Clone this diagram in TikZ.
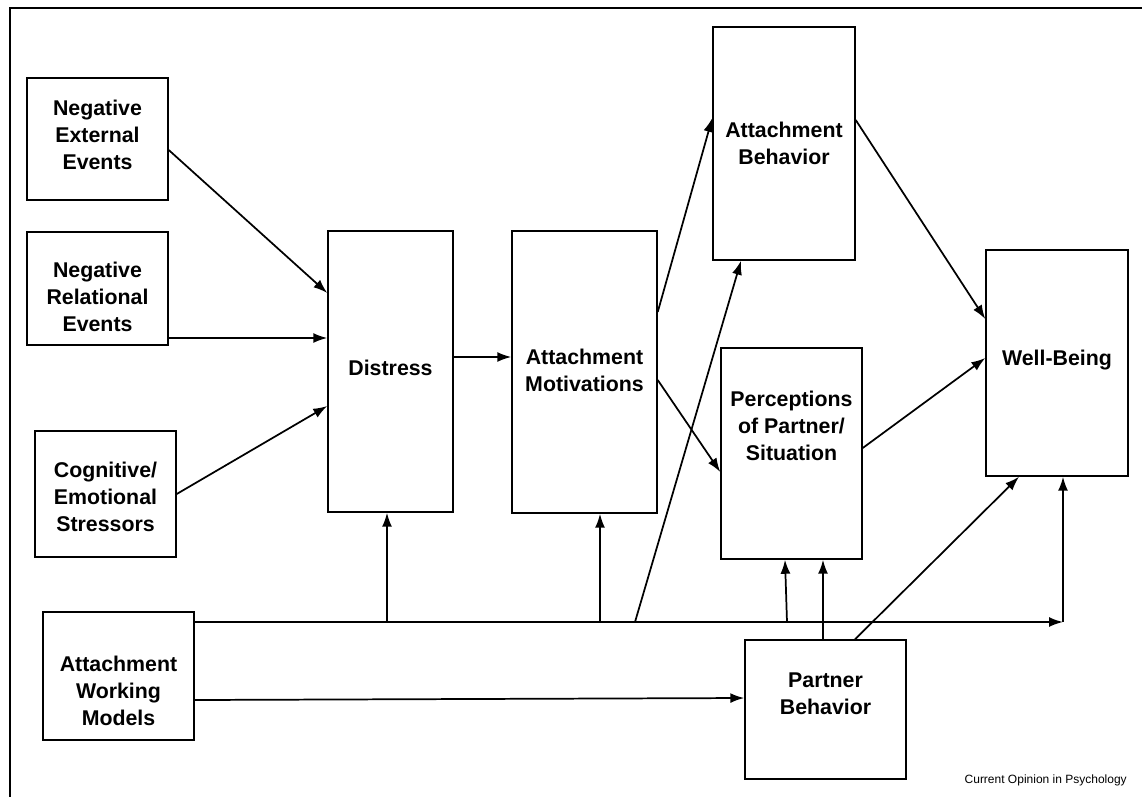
\documentclass[tikz,border=0pt]{standalone}
\usepackage{fontspec}
\setmainfont{Liberation Sans}
\usetikzlibrary{arrows.meta}
\begin{document}
\begin{tikzpicture}[x=0.75pt,y=-0.75pt,
  box/.style={draw=black,line width=1.1pt,inner sep=0pt,minimum width=#1*0.75pt},
  lbl/.style={font=\fontsize{16}{20.25}\selectfont\bfseries,align=center,inner sep=0pt},
  conn/.style={line width=1.3pt,-{Latex[length=10.5pt,width=7.5pt]}},
  bus/.style={line width=1.3pt}]
\useasboundingbox (0,0) rectangle (1142,797);
\draw[line width=1.1pt] (1142,8) -- (10,8) -- (10,797);
% boxes
\node[box=141,minimum height=122*0.75pt] (nee) at (97.5,139) {};
\node[box=141,minimum height=113*0.75pt] (nre) at (97.5,288.5) {};
\node[box=141,minimum height=126*0.75pt] (ces) at (105.5,494) {};
\node[box=125,minimum height=281*0.75pt] (dis) at (390.5,371.5) {};
\node[box=145,minimum height=282*0.75pt] (mot) at (584.5,372) {};
\node[box=142,minimum height=233*0.75pt] (beh) at (784,143.5) {};
\node[box=141,minimum height=211*0.75pt] (per) at (791.5,453.5) {};
\node[box=142,minimum height=226*0.75pt] (wb) at (1057,363) {};
\node[box=151,minimum height=128*0.75pt] (awm) at (118.5,676) {};
\node[box=161,minimum height=139*0.75pt] (pb) at (825.5,709.5) {};
% labels
\node[lbl] (tnee) at (97.5,135) {Negative\\External\\Events};
\node[lbl] (tnre) at (97.5,297) {Negative\\Relational\\Events};
\node[lbl] (tces) at (105.5,497) {Cognitive/\\Emotional\\Stressors};
\node[lbl] (tdis) at (390.5,368) {Distress};
\node[lbl] (tmot) at (584.5,370) {Attachment\\Motivations};
\node[lbl] (tbeh) at (784,143.5) {Attachment\\Behavior};
\node[lbl] (tper) at (791.5,425.5) {Perceptions\\of Partner/\\Situation};
\node[lbl] (twb) at (1057,360) {Well-Being};
\node[lbl] (tawm) at (118.5,691) {Attachment\\Working\\Models};
\node[lbl] (tpb) at (825.5,694) {Partner\\Behavior};
\node[anchor=east,inner sep=0pt,font=\fontsize{9}{11}\selectfont] (foot) at (1127,780) {Current Opinion in Psychology};
% connectors
\draw[conn] (nee.east |- 0,150) -- (dis.west |- 0,293);
\draw[conn] (nre.east |- 0,338) -- (dis.west |- 0,338);
\draw[conn] (ces.east |- 0,494) -- (dis.west |- 0,406);
\draw[conn] (dis.east |- 0,357) -- (mot.west |- 0,357);
\draw[conn] (mot.east |- 0,312) -- (beh.west |- 0,118);
\draw[conn] (mot.east |- 0,380) -- (per.west |- 0,472);
\draw[conn] (beh.east |- 0,120) -- (wb.west |- 0,319);
\draw[conn] (per.east |- 0,448) -- (wb.west |- 0,358);
\draw[conn] (awm.east |- 0,700) -- (pb.west |- 0,698);
% bus
\coordinate (j) at (1063,622);
\coordinate (b1) at (387,622);
\coordinate (b2) at (600,622);
\coordinate (b3) at (635,622);
\coordinate (b4) at (787,622);
\draw[conn] (awm.east |- j) -- (j);
\draw[conn] (j) -- (wb.south -| j);
\draw[conn] (b1) -- (dis.south -| b1);
\draw[conn] (b2) -- (mot.south -| b2);
\draw[conn] (b3) -- (beh.south -| 741,0);
\draw[conn] (b4) -- (per.south -| 785,0);
\draw[conn] (pb.north -| 823,0) -- (per.south -| 823,0);
\draw[conn] (pb.north -| 855,0) -- (wb.south -| 1019,0);
\end{tikzpicture}
\end{document}
